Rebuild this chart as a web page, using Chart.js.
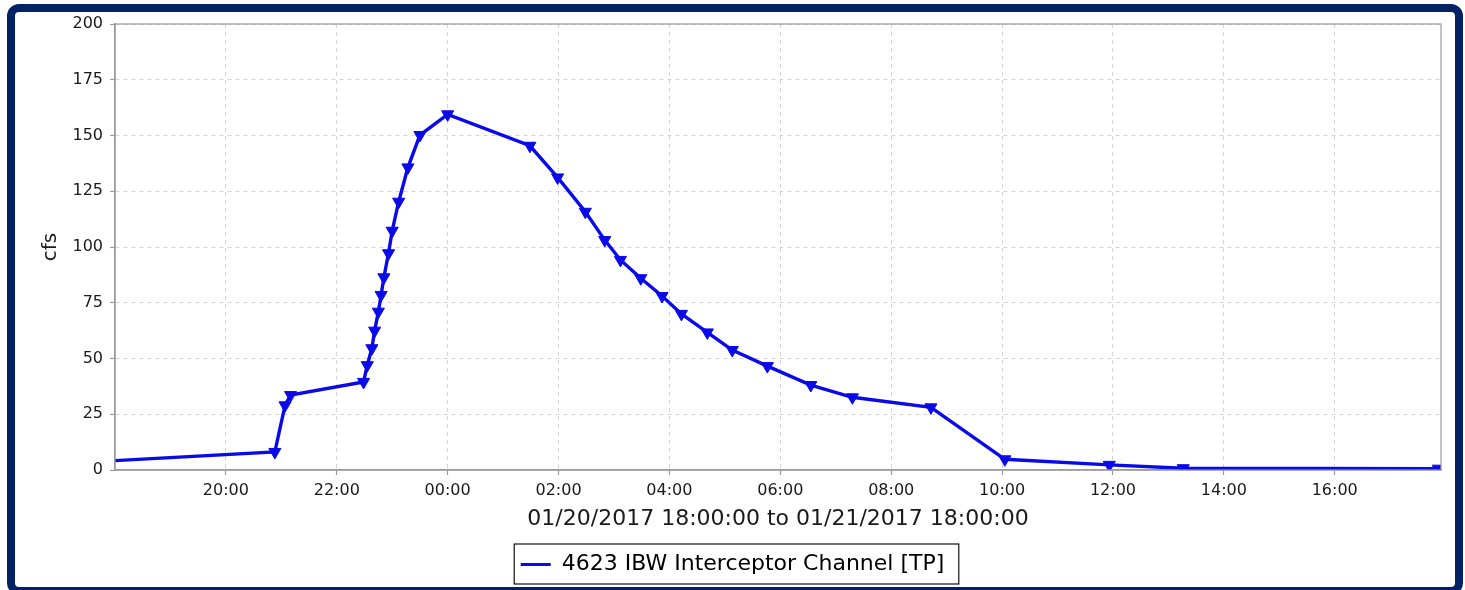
<!DOCTYPE html>
<html>
<head>
<meta charset="utf-8">
<script src="https://cdn.jsdelivr.net/npm/chart.js@4/dist/chart.umd.min.js"></script>
<style>
  html, body { margin: 0; padding: 0; background: #ffffff; }
  body { width: 1465px; height: 590px; position: relative; overflow: hidden; }
  .frame { position: absolute; left: 7px; top: 4px; width: 1456px; height: 591px; box-sizing: border-box;
           border: 8px solid #022263; border-radius: 12px; background: #ffffff; }
  #c { position: absolute; left: 0; top: 0; }
</style>
</head>
<body>
<div class="frame"></div>
<canvas id="c" width="1465" height="590"></canvas>
<script>
// ---- data ----
const seriesName = '4623 IBW Interceptor Channel [TP]';
const timeLabels = ['18:00','20:53','21:04','21:10','22:29','22:33','22:38','22:41','22:45','22:48','22:51','22:56','23:00','23:07','23:17','23:30','00:00','01:29','01:59','02:29','02:50','03:07','03:29','03:52','04:13','04:41','05:08','05:46','06:33','07:18','08:43','10:03','11:56','13:16','17:52'];
const flowCfs = [4.2,8.1,29,33.6,39.5,47,54.6,62.5,71,78.5,86.4,97.2,107.3,120.3,135.7,150.2,159.5,145.4,131.2,115.8,103.1,94.2,86,78,70,61.7,53.8,46.6,38.1,32.6,28.1,4.8,2.3,0.8,0.6];
const xTickLabels = ['20:00','22:00','00:00','02:00','04:00','06:00','08:00','10:00','12:00','14:00','16:00'];
const xRange = ['18:00','17:55'];
const yTickValues = [0,25,50,75,100,125,150,175,200];
const xTitle = '01/20/2017 18:00:00 to 01/21/2017 18:00:00';
const yTitle = 'cfs';

// hours elapsed since 01/20 18:00
function toHours(lbl, isEnd) {
  const [h, m] = lbl.split(':').map(Number);
  let v = h + m / 60 - 18;
  if (v < 0 || (isEnd && v === 0)) v += 24;
  return v;
}
const points = timeLabels.map((t, i) => ({ x: toHours(t), y: flowCfs[i] }));

const AXIS_GRAY = '#9b9b9b';
const GRID_GRAY = '#d4d4d4';
const LINE_BLUE = 'rgb(10,10,232)';

const boxPlugin = {
  id: 'boxPlugin',
  afterDatasetsDraw(chart) {
    const a = chart.chartArea, ctx = chart.ctx;
    ctx.save();
    ctx.strokeStyle = AXIS_GRAY;
    ctx.lineWidth = 1.2;
    ctx.strokeRect(a.left, a.top, a.right - a.left, a.bottom - a.top);
    ctx.restore();
  },
  afterDraw(chart) {
    const lg = chart.legend;
    if (!lg || !lg.legendHitBoxes || !lg.legendHitBoxes.length) return;
    const hb = lg.legendHitBoxes[0];
    const ctx = chart.ctx;
    ctx.save();
    ctx.strokeStyle = '#111';
    ctx.lineWidth = 1.2;
    const l = hb.left - 6.5, t = hb.top - 9.5, r = hb.left + hb.width + 14.5, b = hb.top + hb.height + 8.5;
    ctx.strokeRect(l, t, r - l, b - t);
    ctx.restore();
  }
};

const gridOpts = {
  color: GRID_GRAY, lineWidth: 1, drawTicks: true, tickLength: 5,
  tickColor: AXIS_GRAY, tickBorderDash: [], tickWidth: 1.2
};

new Chart(document.getElementById('c'), {
  type: 'line',
  data: {
    datasets: [{
      label: seriesName,
      data: points,
      borderColor: LINE_BLUE,
      backgroundColor: LINE_BLUE,
      borderWidth: 3.4,
      tension: 0,
      pointStyle: 'triangle',
      rotation: 180,
      pointRadius: (ctx) => ctx.dataIndex === 0 ? 0 : 7,
      pointBackgroundColor: LINE_BLUE,
      pointBorderColor: LINE_BLUE,
      pointBorderWidth: 1,
      fill: false
    }]
  },
  options: {
    responsive: false,
    animation: false,
    devicePixelRatio: 1,
    layout: { padding: { top: 24, left: 0, right: 0, bottom: 4.5 } },
    plugins: {
      tooltip: { enabled: false },
      legend: {
        position: 'bottom',
        align: 'center',
        labels: {
          font: { family: 'DejaVu Sans', size: 22 },
          color: '#111',
          padding: 10,
          boxWidth: 30,
          boxHeight: 3,
          generateLabels: (chart) => [{
            text: seriesName, fillStyle: LINE_BLUE, strokeStyle: LINE_BLUE, lineWidth: 0,
            hidden: false, datasetIndex: 0
          }]
        }
      }
    },
    scales: {
      x: {
        type: 'linear',
        min: toHours(xRange[0]),
        max: toHours(xRange[1], true),
        afterBuildTicks: (axis) => { axis.ticks = xTickLabels.map(l => ({ value: toHours(l) })); },
        afterFit: (axis) => { axis.height = 73.5; },
        ticks: {
          autoSkip: false, maxRotation: 0,
          font: { family: 'DejaVu Sans', size: 16 }, color: '#1a1a1a', padding: 6,
          callback: (v) => { const h = Math.round((18 + v) % 24); return (h < 10 ? '0' : '') + h + ':00'; }
        },
        grid: gridOpts,
        border: { display: true, color: AXIS_GRAY, width: 1.5, dash: [4, 4] },
        title: {
          display: true, text: xTitle, color: '#1a1a1a',
          font: { family: 'DejaVu Sans', size: 22 }, padding: { top: 0, bottom: 11 }
        }
      },
      y: {
        type: 'linear',
        position: 'left',
        min: 0, max: 200,
        afterBuildTicks: (axis) => { axis.ticks = yTickValues.map(v => ({ value: v })); },
        afterFit: (axis) => { axis.width = 115; },
        ticks: { font: { family: 'DejaVu Sans', size: 16 }, color: '#1a1a1a', padding: 7 },
        grid: gridOpts,
        border: { display: true, color: AXIS_GRAY, width: 1.5, dash: [4, 4] },
        title: {
          display: true, text: yTitle, color: '#1a1a1a',
          font: { family: 'DejaVu Sans', size: 20 }, padding: { top: 39, bottom: 0 }
        }
      },
      yRight: {
        type: 'linear',
        position: 'right',
        display: true,
        ticks: { display: false },
        grid: { display: false, drawTicks: false },
        border: { display: false },
        afterFit: (axis) => { axis.width = 24; }
      }
    }
  },
  plugins: [boxPlugin]
});
</script>
</body>
</html>
